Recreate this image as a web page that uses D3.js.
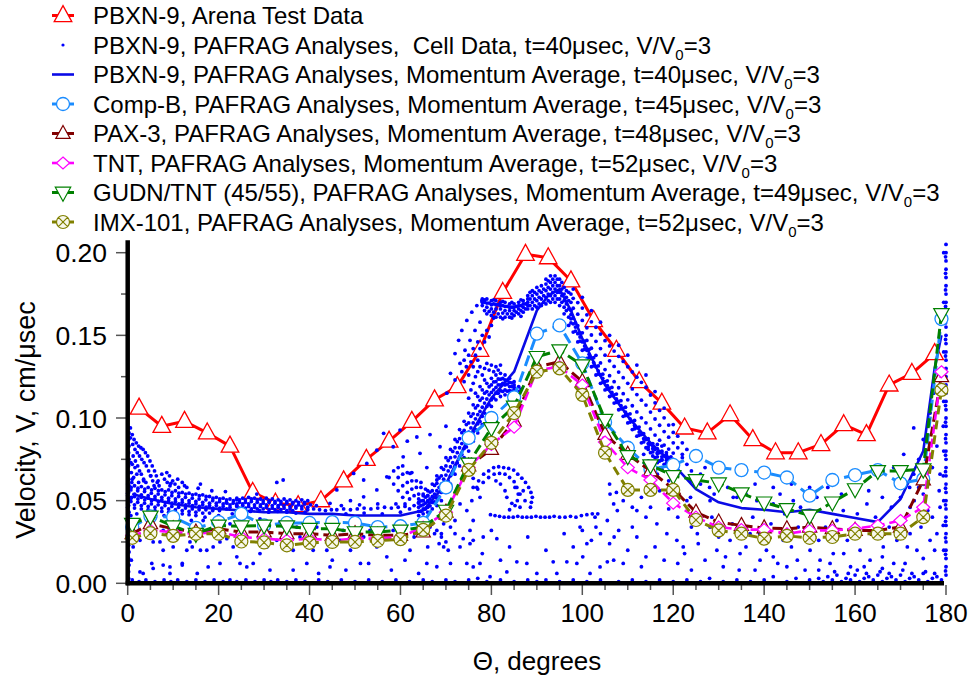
<!DOCTYPE html>
<html><head><meta charset="utf-8">
<script src="https://cdn.jsdelivr.net/npm/d3@7"></script>
<style>body{margin:0;background:#fff}svg{display:block}text{font-family:"Liberation Sans",Arial,Helvetica,sans-serif;white-space:pre}</style>
</head><body><svg id="c" width="972" height="677"></svg>
<script>
// ---------------- DATA ----------------
const yTicks = [0, 0.05, 0.10, 0.15, 0.20];
const yTickLabels = ["0.00","0.05","0.10","0.15","0.20"];
const xTicks = [0,20,40,60,80,100,120,140,160,180];

const arenaTheta = [2.5,7.5,12.5,17.5,22.5,27.5,32.5,37.5,42.5,47.5,52.5,57.5,62.5,67.5,72.5,77.5,82.5,87.5,92.5,97.5,102.5,107.5,112.5,117.5,122.5,127.5,132.5,137.5,142.5,147.5,152.5,157.5,162.5,167.5,172.5,177.5];
const arenaV = [.106,.095,.098,.091,.083,.055,.0485,.047,.050,.062,.075,.086,.098,.111,.119,.141,.176,.199,.197,.183,.159,.141,.122,.109,.094,.091,.102,.087,.079,.079,.084,.096,.090,.120,.127,.139];

const pbxnTheta = [1,5,10,15,20,25,30,35,40,45,50,55,60,65,70,75,80,85,90,92.5,95,97.5,100,103,105,110,115,120,125,130,135,140,145,150,155,160,165,170,175,177.5,179];
const pbxnAvg = [.054,.051,.048,.046,.045,.044,.043,.043,.042,.042,.041,.041,.041,.044,.060,.088,.112,.128,.165,.174,.178,.165,.148,.131,.120,.101,.085,.072,.057,.049,.0455,.0445,.043,.0445,.042,.0395,.037,.051,.080,.130,.150];

const avgTheta = [1,5,10,15,20,25,30,35,40,45,50,55,60,65,70,75,80,85,90,95,100,105,110,115,120,125,130,135,140,145,150,155,160,165,170,175,179];
const compB = [.034,.0405,.040,.0335,.037,.042,.035,.0365,.0365,.037,.0365,.034,.0345,.0365,.058,.088,.100,.1125,.151,.156,.133,.0975,.082,.069,.0716,.077,.070,.0685,.067,.064,.053,.0625,.0655,.0685,.0605,.063,.160];
const pax3 = [.030,.036,.033,.031,.033,.031,.031,.030,.030,.029,.030,.029,.029,.031,.043,.071,.081,.098,.131,.134,.122,.090,.078,.068,.057,.043,.037,.035,.0335,.033,.034,.033,.032,.032,.034,.0625,.125];
const tnt = [.029,.032,.031,.030,.031,.028,.027,.026,.027,.026,.027,.027,.028,.034,.043,.070,.084,.0945,.129,.131,.120,.0855,.070,.0625,.0485,.040,.034,.0325,.0325,.030,.032,.032,.033,.035,.038,.046,.128];
const gudn = [.036,.0405,.0345,.030,.035,.0345,.035,.0345,.033,.033,.031,.031,.032,.034,.044,.0725,.094,.107,.137,.141,.132,.099,.077,.0715,.065,.0625,.0605,.0545,.049,.045,.041,.049,.057,.068,.068,.069,.163];
const imx = [.0275,.0303,.0287,.030,.030,.0253,.0247,.023,.0245,.025,.025,.0257,.0267,.0323,.041,.0686,.085,.103,.128,.130,.114,.079,.0565,.0565,.0565,.0383,.032,.030,.027,.0287,.0275,.028,.030,.030,.030,.040,.117];

// PBXN-9 cell data (theta deg, V cm/usec)
const cellEdge0 = [[.2,.003],[.2,.007],[.3,.011],[.2,.015],[.3,.019],[.2,.023],[.3,.027],[.2,.031],[.3,.035],[.2,.039],[.3,.043],[.2,.047],[.3,.051],[.2,.055],[.3,.059],[.2,.063],[.3,.067],[.2,.071],[.3,.075],[.2,.079],[.3,.083],[.2,.087],[.3,.091],[.2,.094],[.8,.014],[.9,.029],[.7,.041],[.8,.052],[.9,.061],[.7,.073]];
const cellLoop = [[.6,.094],[1,.090],[1.4,.087],[1.9,.085],[2.4,.083],[2.9,.082],[3.4,.081],[3.9,.079],[4.4,.077],[4.9,.074],[5.4,.071],[5.9,.068],[6.3,.065],[6.7,.062],[6.9,.059],
[.6,.088],[1.1,.084],[1.6,.081],[2.1,.079],[2.6,.077],[3.1,.075],[3.6,.073],[4.1,.071],[4.6,.068],[5.1,.065],[5.5,.062],[5.8,.059],
[1.2,.077],[1.7,.074],[2.2,.071],[2.6,.068],[3,.066],[3.5,.063],[4,.061],[2,.066],[1.6,.070],[1,.072],[.8,.067],[1.3,.064],[2.4,.061],
[7.5,.066],[8.1,.063],[8.7,.061],[9.3,.059],[9.9,.062],[10.4,.060],[8.6,.067],[9.2,.065],[11.2,.058],[12,.061],[13,.058]];
const cellBandL = [[0,.060],[1.5,.059],[3,.0585],[4.5,.058],[6,.0575],[7.5,.0565],[9,.0565],[10.5,.056],[12,.055],[13.5,.0545],[15,.054],[16.5,.0535],[18,.0525],[19.5,.052],[21,.0515],[22.5,.051],[24,.0505],
[.7,.0565],[2.2,.056],[3.7,.0555],[5.2,.0545],[6.7,.054],[8.2,.0535],[9.7,.053],[11.2,.0525],[12.7,.052],[14.2,.0515],[15.7,.051],[17.2,.0505],[18.7,.050],[20.2,.0495],[21.7,.049],[23.2,.0485],
[0,.053],[1.5,.0525],[3,.052],[4.5,.0515],[6,.051],[7.5,.0505],[9,.050],[10.5,.0495],[12,.049],[13.5,.0485],[15,.048],[16.5,.0475],[18,.047],[19.5,.047],[21,.0465],[22.5,.046],
[.7,.0495],[2.2,.049],[3.7,.0485],[5.2,.048],[6.7,.0475],[8.2,.047],[9.7,.0465],[11.2,.046],[12.7,.0455],[14.2,.045],[15.7,.0445],[17.2,.0445],[18.7,.044],[20.2,.044],
[0,.046],[1.5,.0455],[3,.045],[4.5,.0445],[6,.044],[7.5,.0435],[9,.043],[10.5,.0425],[12,.042],[13.5,.0415],[15,.041],
[1,.063],[3.5,.062],[6.5,.061],[9.5,.0605],[12.5,.059],[15.5,.0575],[18.5,.056],[21.5,.0555],[5,.065],[11,.063],[16,.060],
[2,.042],[5,.040],[8,.041],[11,.039],[14,.038],[17,.040],[20,.041],[23,.042],
[.75,.058],[2.25,.0575],[3.75,.057],[5.25,.0565],[6.75,.056],[8.25,.0555],[9.75,.055],[11.25,.0545],[12.75,.054],[14.25,.0535],[15.75,.053],[17.25,.0525],[18.75,.0515],[20.25,.051],[21.75,.0505],[23.25,.050],
[0,.0545],[1.5,.054],[3,.0535],[4.5,.053],[6,.0525],[7.5,.052],[9,.0515],[10.5,.051],[12,.0505],[13.5,.050],[15,.0495],[16.5,.049],[18,.0485],[19.5,.0485],[21,.048],[22.5,.0475],[24,.047],
[.75,.0515],[2.25,.051],[3.75,.0505],[5.25,.050],[6.75,.0495],[8.25,.049],[9.75,.0485],[11.25,.048],[12.75,.0475],[14.25,.047],[15.75,.0465],[17.25,.046],[18.75,.0455],[20.25,.0455],[21.75,.045],
[0,.048],[1.5,.0475],[3,.047],[4.5,.0465],[6,.046],[7.5,.0455],[9,.045],[10.5,.0445],[12,.044],[13.5,.0435],[15,.043],[16.5,.0425],[18,.0425]];
const cellCluster = [[24,.0515],[25.3,.0515],[26.6,.052],[27.9,.0515],[29.2,.051],[30.5,.0515],[31.8,.051],[33.1,.0505],[34.4,.051],[35.7,.0505],[37,.050],[38.3,.0505],[39.6,.050],
[24.6,.049],[25.9,.049],[27.2,.0495],[28.5,.049],[29.8,.0485],[31.1,.049],[32.4,.0485],[33.7,.048],[35,.0485],[36.3,.048],[37.6,.0475],[38.9,.048],[40.2,.0475],[41.5,.047],
[24,.0465],[25.3,.047],[26.6,.0465],[27.9,.046],[29.2,.0465],[30.5,.046],[31.8,.0455],[33.1,.046],[34.4,.0455],[35.7,.045],[37,.0455],[38.3,.045],[39.6,.0445],[40.9,.045],[42.2,.0445],[43.5,.044],[44.8,.0445],
[25,.044],[27,.0435],[29,.044],[31,.043],[33,.0435],[35,.043],[37,.0425],[39,.043],
[24.6,.0505],[25.9,.0505],[27.2,.051],[28.5,.0505],[29.8,.050],[31.1,.050],[32.4,.0495],[33.7,.0495],[35,.0495],[36.3,.049],[37.6,.049],[38.9,.049],
[24,.048],[25.3,.048],[26.6,.048],[27.9,.0475],[29.2,.0475],[30.5,.0475],[31.8,.047],[33.1,.047],[34.4,.047],[35.7,.0465],[37,.0465],[38.3,.0465],[39.6,.046],
[24.6,.0455],[25.9,.0455],[27.2,.045],[28.5,.045],[29.8,.045],[31.1,.0445],[32.4,.0445],[33.7,.0445],[35,.044],[36.3,.044],
[46,.0445],[47.5,.045],[49,.0445],[50.5,.045],[52,.0455],[53.5,.045],[55,.0455],[56.5,.046],[58,.0455],[59.5,.046],[61,.0465],[47,.047],[51,.0475],[55,.048],[59,.048],[48,.042],[52,.0425],[56,.042],[60,.043],
[32.8,.061],[34.2,.0625],[28.4,.054],[21.8,.0485]];
const cellArcs = [[59.5,.056],[60.5,.059],[61.5,.061],[62.5,.062],[63.5,.062],[64.5,.061],
[60.5,.052],[61.5,.055],[62.5,.057],[63.5,.058],[64.5,.058],[65.5,.057],
[61,.048],[62,.051],[63,.053],[64,.054],[65,.054],[66,.053],
[62,.045],[63,.047],[64,.049],[65,.050],[66,.050],[67,.049],
[58.5,.060],[59.5,.064],[60.5,.066],[61.5,.067],[62.5,.067],
[57.5,.064],[58.5,.068],[59.5,.070],[60.5,.071]];
const cellAbove = [[46,.0565],[49.7,.0665],[52.6,.0725],[54.8,.0805],[58.4,.0826],[60.6,.0765],[62.1,.0665],[57,.0644],[54.8,.0565],[51.9,.0523],[59.9,.0927],[63.6,.0885],[64.3,.0786],[65.8,.070],[68,.0625],[68.7,.0826],[56.3,.0907],[51.9,.0625],[49,.050],[44.5,.0484],[66.5,.090],[70,.095],[61.5,.086]];
const cellRise = [
[64,.041],[65,.042],[66,.043],[67,.045],[68,.047],[69,.050],[70,.055],[71,.060],[72,.066],[73,.071],[74,.076],[75,.080],[76,.086],[77,.091],[78,.096],[79,.102],[80,.107],[81,.111],[82,.113],[83,.114],[84,.114],[85,.115],
[64,.0435],[65,.045],[66,.046],[67,.049],[68,.0515],[69,.055],[70,.060],[71,.065],[72,.071],[73,.0765],[74,.0815],[75,.086],[76,.0915],[77,.0965],[78,.101],[79,.107],[80,.111],[81,.115],[82,.1165],[83,.117],[84,.1165],[85,.117],
[64,.046],[65,.0475],[66,.0495],[67,.0525],[68,.056],[69,.060],[70,.0655],[71,.0705],[72,.0765],[73,.082],[74,.087],[75,.0915],[76,.097],[77,.102],[78,.1065],[79,.1115],[80,.1155],[81,.1185],[82,.120],[83,.120],[84,.119],[85,.1185],
[64,.0485],[65,.050],[66,.053],[67,.056],[68,.0605],[69,.065],[70,.071],[71,.076],[72,.082],[73,.0875],[74,.0925],[75,.097],[76,.1025],[77,.1075],[78,.112],[79,.116],[80,.120],[81,.122],[82,.1235],[83,.123],[84,.1215],[85,.120],
[64,.051],[65,.053],[66,.056],[67,.060],[68,.065],[69,.070],[70,.076],[71,.081],[72,.087],[73,.093],[74,.098],[75,.103],[76,.108],[77,.113],[78,.117],[79,.121],[80,.124],[81,.126],[82,.127],[83,.126],[84,.124],[85,.122],
[64.5,.0436],[65.5,.0449],[66.5,.0468],[67.5,.0493],[68.5,.0523],[69.5,.0566],[70.5,.0617],[71.5,.0672],[72.5,.0728],[73.5,.0779],[74.5,.0825],[75.5,.0875],[76.5,.0929],[77.5,.0978],[78.5,.103],[79.5,.1081],[80.5,.1122],[81.5,.1149],[82.5,.1161],[83.5,.1162],[84.5,.1162],
[64.5,.047],[65.5,.0485],[66.5,.051],[67.5,.054],[68.5,.058],[69.5,.063],[70.5,.068],[71.5,.073],[72.5,.079],[73.5,.0845],[74.5,.089],[75.5,.094],[76.5,.0995],[77.5,.104],[78.5,.109],[79.5,.114],[80.5,.117],[81.5,.120],[82.5,.121],[83.5,.1205],[84.5,.119],
[64.5,.0499],[65.5,.0521],[66.5,.0552],[67.5,.0592],[68.5,.0637],[69.5,.0689],[70.5,.0743],[71.5,.0798],[72.5,.0857],[73.5,.0911],[74.5,.096],[75.5,.101],[76.5,.1061],[77.5,.1107],[78.5,.115],[79.5,.1189],[80.5,.1218],[81.5,.1236],[82.5,.1239],[83.5,.1228],[84.5,.1213],
[86,.116],[86,.119],[86.5,.1175],
[75,.112],[75.5,.117],[76,.121],[76.5,.125],[77,.128],[77.5,.131],[78,.126],[78.5,.130],[79,.133],[79.5,.129],[80,.132],[80.5,.128],[81,.131],[81.5,.129],[82,.132],[76.5,.115],[77.5,.119],[78.5,.123],
[67,.036],[68,.032],[69,.028],[68.5,.024],[67.5,.030],[66.5,.034]];
const cellUpper = [[70.2,.115],[71,.127],[72,.139],[72.8,.147],[73.5,.153],[74.6,.159],[75.7,.164],[76.8,.168],[77.9,.171],
[72,.123],[73.1,.133],[74.2,.141],[75.3,.147],[76.4,.153],[77.5,.158],
[73.5,.128],[74,.135],[74.5,.131],[75,.138],[75.5,.134],[76,.142],[76.5,.138],[77,.146],[77.5,.142],[78,.150],[78.5,.146],[79,.153],[79.5,.149],[80,.156],[74,.122],[75,.126],[76,.131],[77,.135],
[78,.172],[79,.172],[80,.171],[81,.171],[82,.170],[83,.170],[84,.169],[85,.169],[86,.170],[87,.171],[88,.172],
[78.5,.170],[79.5,.1695],[80.5,.169],[81.5,.1685],[82.5,.168],[83.5,.1675],[84.5,.167],[85.5,.1675],[86.5,.168],[87.5,.169],
[78,.168],[79,.167],[80,.166],[81,.166],[82,.166],[83,.165],[84,.165],[85,.165],[86,.166],[87,.167],[88,.168],
[79,.163],[80,.162],[81,.161],[82,.161],[83,.161],[84,.161],[85,.162],[86,.163],[87,.164],[78.5,.165],[80.5,.164],[82.5,.1635],[84.5,.163],[86.5,.165],
[78,.170],[79,.1695],[80,.1685],[81,.1685],[82,.168],[83,.1675],[84,.167],[85,.167],[86,.168],[87,.169],[79.5,.1645],[80.5,.1605],[81.5,.163],[82.5,.160],[83.5,.163],[84.5,.1605],[85.5,.164],[86.5,.1615],[87.5,.166],[78.5,.1715],[80.5,.1715],[82.5,.1705],[84.5,.170],[86.5,.1715],
[88,.166],[88,.170],[88,.174],[89,.166],[89,.170],[89,.174],[89,.177],[90,.167],[90,.171],[90,.175],[90,.179],[91,.168],[91,.172],[91,.176],[91,.180],
[92,.169],[92,.173],[92,.177],[92,.181],[92,.184],[93,.170],[93,.174],[93,.178],[93,.182],[93,.186],[94,.170],[94,.174],[94,.178],[94,.182],[94,.186],
[95,.168],[95,.172],[95,.176],[95,.180],[95,.184],[96,.163],[96,.167],[96,.171],[96,.175],[96,.179],[97,.156],[97,.161],[97,.166],[97,.171],[97,.176],
[88.5,.168],[89.5,.172],[90.5,.169],[91.5,.174],[92.5,.171],[93.5,.180],[94.5,.184],[95.5,.178],[96.5,.173],[92.5,.179],[93.5,.176],[94.5,.176],
[88.5,.172],[88.5,.176],[89.5,.168],[89.5,.176],[90.5,.173],[90.5,.177],[91.5,.170],[91.5,.178],[92.5,.175],[92.5,.183],[93.5,.172],[93.5,.184],[94.5,.172],[94.5,.180],[95.5,.170],[95.5,.174],[95.5,.182],[96.5,.165],[96.5,.169],[96.5,.177],[97.5,.160],[97.5,.165],[97.5,.170],[97.5,.175]];
const cellFanR = [
[98,.152],[98,.157],[98,.1604],[98,.1664],[98,.1724],[99,.146],[99,.151],[99,.1558],[99,.1628],[99,.1698],
[100,.141],[100,.146],[100,.1515],[100,.159],[100,.1665],[101,.136],[101,.141],[101,.1469],[101,.1546],[101,.1624],
[102,.131],[102,.136],[102,.1422],[102,.1502],[102,.1582],[103,.126],[103,.131],[103,.1379],[103,.1464],[103,.1549],
[104,.121],[104,.126],[104,.1333],[104,.142],[104,.1508],[105,.117],[105,.122],[105,.1293],[105,.138],[105,.1468],
[106,.113],[106,.118],[106,.1256],[106,.1346],[106,.1436],[107,.109],[107,.114],[107,.122],[107,.1312],[107,.1405],
[108,.105],[108,.110],[108,.1183],[108,.1278],[108,.1373],[109,.101],[109,.106],[109,.1147],[109,.1244],[109,.1342],
[110,.097],[110,.102],[110,.111],[110,.121],[110,.131],[111,.093],[111,.098],[111,.1074],[111,.1176],[111,.1279],
[112,.089],[112,.094],[112,.1037],[112,.1142],[112,.1247],[113,.085],[113,.090],[113,.1001],[113,.1108],[113,.1216],
[114,.082],[114,.087],[114,.0971],[114,.1078],[114,.1186],[115,.079],[115,.084],[115,.0934],[115,.1036],[115,.1139],
[116,.076],[116,.081],[116,.0897],[116,.0994],[116,.1092],[117,.074],[117,.079],[117,.0866],[117,.0956],[117,.1046],
[118,.072],[118,.077],[118,.0836],[118,.0918],[118,.1001],[119,.071],[119,.076],[119,.0812],[119,.0884],[119,.0957],
[120,.070],[120,.075],[120,.0788],[120,.085],[120,.0913],[121,.073],[121,.082],[121,.089],[122,.078],[122,.085],[123,.081],
[98.5,.155],[99.5,.149],[100.5,.1435],[101.5,.1385],[102.5,.1335],[103.5,.1285],[104.5,.124],[105.5,.1195],[106.5,.1155],[107.5,.1115],[108.5,.1075],[109.5,.1035],[110.5,.0995],[111.5,.0955],[112.5,.0915],[113.5,.0875],[114.5,.0845],[115.5,.0815],[116.5,.0785],[117.5,.0765],[118.5,.0745],
[97.5,.1575],[98.5,.1525],[99.5,.1465],[100.5,.1415],[101.5,.1365],[102.5,.1315],[103.5,.1265],[104.5,.1215],[105.5,.1175],[106.5,.1135],[107.5,.1095],[108.5,.1055],[109.5,.1015],[110.5,.0975],[111.5,.0935],[112.5,.0895],[113.5,.0855],[114.5,.0825],[115.5,.0795],[116.5,.0765],[117.5,.0745],[118.5,.0725],[119.5,.0715],
[97.5,.1625],[98.5,.1575],[99.5,.1515],[100.5,.1465],[101.5,.1415],[102.5,.1365],[103.5,.1315],[104.5,.1265],[105.5,.1225],[106.5,.1185],[107.5,.1145],[108.5,.1105],[109.5,.1065],[110.5,.1025],[111.5,.0985],[112.5,.0945],[113.5,.0905],[114.5,.0875],[115.5,.0845],[116.5,.0815],[117.5,.0795],[118.5,.0775],[119.5,.0765],
[98,.178],[100,.173],[102,.165],[104,.158],[106,.150],[108,.144],[110,.138],[112,.132],[114,.126],[116,.116],[118,.106],[120,.096]];
const cellSmallFan = [[113.5,.078],[114.5,.081],[115.5,.083],[116.5,.084],[117.5,.083],[114.5,.074],[115.5,.077],[116.5,.079],[117.5,.080],[118.5,.079],
[115.5,.070],[116.5,.073],[117.5,.075],[118.5,.076],[119.5,.075],[116.5,.066],[117.5,.069],[118.5,.071],[119.5,.072],[120.5,.071],[121,.066],[120,.064],[119,.062],
[122,.076],[123,.072],[124,.068],[126,.066],[127,.070],[124,.062],[126,.060],[128,.058],[130,.062],[132,.058],[129,.054]];
const cellWave = [[76,.058],[77.2,.062],[78.3,.066],[79.4,.068],[80.5,.070],[81.6,.0705],[82.7,.070],[83.8,.0695],[84.9,.0685],[85.8,.066],[86.7,.0636],[87.5,.061],[88.2,.058],[88.7,.055],[89,.052],[88.8,.049],[88.6,.046],
[77,.057],[78.2,.061],[79.4,.064],[80.6,.066],[81.8,.0665],[83,.066],[84,.064],[85,.0615],[85.6,.058],[85.9,.054],[85.7,.050],[85.2,.047],[84,.0445],
[83.4,.052],[84.5,.0484],[86.3,.046],[87.4,.050],[86.3,.054],[85.2,.058],[87,.056],[83,.056],[82,.060],[81,.062],
[79.8,.0415],[80.8,.041],[81.8,.0405],[82.8,.040],[83.8,.040],[84.8,.040],[85.8,.0405],[86.8,.040],[87.8,.040],[88.8,.040],[89.8,.0405],[90.8,.040],[91.8,.040],[92.8,.040],[93.8,.0405],[95,.040],[96.2,.040],[97.4,.0405],[98.6,.040],[99.8,.041],[101,.0415],[102.2,.042],[103.4,.042],
[73.1,.022],[73.8,.027],[75.3,.024],[75.3,.032],[76,.038],[74.6,.044],[73.1,.048],[75.7,.050],[77.5,.052],[76.8,.058],[76,.0635],[78.2,.028],[81.2,.027],[69,.030],[70,.025],[71,.034],[70.5,.020],[72,.038],[69.5,.036],
[99.5,.034],[105.5,.038],[107.7,.044],[106.1,.054],[106.9,.048],[102.8,.040]];
const cellSparse = [[2.7,.026],[5.6,.025],[7.8,.020],[10,.022],[13,.020],[14.2,.022],[16,.020],[17.4,.020],[18.8,.022],[20.3,.025],[21.8,.027],[23.2,.022],[24,.016],[24.7,.012],[26.2,.0099],[27.6,.012],[29.1,.018],[30.6,.022],[32.8,.026],[35,.024],[36.4,.020],[37.9,.028],[39.4,.024],[40.8,.020],
[5.3,.012],[2.7,.0069],[9.3,.0099],[12,.011],[15.3,.006],[17.7,.0099],[20.3,.012],[31.3,.008],[36.4,.008],[39.4,.012],[1.2,.022],[4.2,.028],[7.8,.032],[13.7,.025],[7.1,.025],
[8.6,.037],[16.6,.038],[22.5,.036],[29.1,.039],[33.5,.037],[37.2,.034],[40.8,.036],[3.4,.006],[5.6,.009],[7.8,.011],[9.3,.006],[12,.012],
[43.8,.020],[46.7,.026],[49,.020],[51.9,.028],[54.8,.022],[57,.016],[59.2,.026],[62.1,.020],[65.8,.012],[51.2,.012],[44.5,.0099],[69.5,.022],[71,.012],[74.6,.012],[76,.026],[41.6,.034],[47.4,.032],[53.3,.032],[58.4,.032],
[77.5,.012],[76,.0099],[82,.014],[85.6,.013],[87.8,.012],[90,.006],[93.6,.013],[96.6,.013],[98.8,.012],[100.1,.016],[103.9,.0099],[105.5,.013],[106.9,.014],[79.7,.004],[83.4,.0069],[94.4,.006],[101.7,.006],
[106,.060],[107.5,.055],[109,.050],[110,.058],[111,.046],[112,.044],[113,.052],[114,.040],[115,.046],[116.4,.036],[117,.056],[118.6,.030],[119,.045],[120.8,.026],[121,.040],[122.2,.022],[123,.050],[124,.034],[104,.030],[106,.024],[108,.032],[110,.020],[112,.028],[114,.016],[102,.026],[100,.032],
[125.3,.030],[128.1,.034],[129.6,.020],[132.5,.026],[134.7,.018],[136.9,.030],[139.1,.014],[142,.016],[144.2,.026],[147.3,.014],[150.1,.020],[152.3,.014],[155.2,.018],[158.3,.026],[161.1,.020],[163.3,.014],[166.2,.022],[169.2,.026],[172.1,.030],[173.6,.020],[176.5,.026],
[123.8,.052],[128.1,.050],[133.2,.052],[138.4,.050],[143.5,.054],[146.4,.050],[151.6,.052],[157.4,.044],[162.6,.048],[165.5,.066],[168.5,.070],[170.7,.078],[172.9,.094],[175,.087],[176.5,.103],[177.3,.115],[172.9,.066],[175,.054],[172.1,.046],[178,.083],[178.7,.066],[178.7,.046],[178,.030],
[134,.052],[136,.054],[140,.051],[142,.048],[145,.047],[148,.046],[131,.010],[138,.008],[145,.010],[152,.008],[159,.010],[166,.009],[171,.012],[175,.015],[177,.040],[176,.060],[174,.075],
[121,.012],[122.5,.018],[124,.008],[125.5,.024],[127,.014],[128.5,.040],[130,.028],[131.5,.016],[133,.036],[134.5,.008],[136,.022],[137.5,.040],[139,.030],[140.5,.020],[141.5,.036],[143,.012],[144.5,.042],[146,.022],[147.5,.034],[149,.008],[150.5,.040],[152,.026],[153.5,.034],[154.5,.012],[156,.038],[157.5,.018],[159,.032],[160.5,.042],[162,.010],[163.5,.030],[164.5,.040],[166,.016],[167.5,.034],[168.5,.012],[170,.040],[171.5,.022],[173,.050],[174.5,.034],[176,.044],[177.5,.020],[178.5,.056],[177,.070],[175.5,.060],[174,.058],[172,.058],[170,.052],[168,.046],[166,.052],[163,.056],[160,.058],[157,.054],[154,.058],[150,.058],[146,.060],[142,.058],[138,.060],
[42,.006],[45,.014],[48,.008],[50,.030],[53,.012],[55,.035],[58,.008],[61,.014],[63,.028],[64,.006],[66,.022],[68,.010],[72,.030],[78,.018],[80,.032],[84,.022],[88,.028],[92,.020],[96,.030],[98,.022],[101,.024],[103,.034],[107,.028],[109,.012],[111,.034],[113,.010],[116,.022],[118,.014]];
const cellBottom = [[1,.002],[2.5,.001],[4,.002],[6,.001],[8,.002],[9.5,.001],[11,.002],[13,.001],[15,.002],[17,.001],[19,.002],[21,.001],[22.5,.002],[24,.001],[26,.002],[28,.001],[30,.002],[31.5,.001],[33,.002],[35,.001],[37,.002],[39,.001],[42,.002],[44,.001],[47,.002],[50,.001],[53,.002],[56,.001],[59,.002],[62,.001],[65,.002],[67,.001],[70,.002],[72,.001],[75,.002],[77,.003],[79,.001],[82,.002],[85,.001],[88,.002],[90,.001],[92,.002],[95,.001],[98,.002],[101,.001],[104,.002],[108,.001],[111,.002],[114,.001],[117,.002],[120,.001],[123,.002],[126,.001],[128,.003],[131,.001],[134,.002],[137,.001],[140,.002],[142,.004],[145,.001],[147,.003],[150,.002],
[152,.003],[153,.001],[154,.004],[155,.002],[156,.005],[157,.001],[158,.003],[159,.002],[160,.005],[161,.001],[162,.003],[163,.004],[164,.002],[165,.005],[166,.001],[167,.003],[168,.004],[169,.002],[170,.005],[171,.001],[172,.003],[173,.004],[174,.002],[175,.006],[176,.001],[177,.003],[178,.004],[179,.002],[155.5,.007],[160.5,.008],[165.5,.007],[170.5,.008],[175.5,.007],[158.5,.006],[162.5,.006],[167.5,.006],[172.5,.006],[177.5,.006]];
const cellEdge180 = [[180,.005],[180,.010],[180,.015],[180,.020],[180,.025],[180,.030],[180,.035],[180,.040],[180,.045],[180,.050],[180,.055],[180,.060],[180,.065],[180,.070],[180,.075],[180,.080],[180,.085],[180,.090],[180,.095],[180,.100],[180,.105],[180,.110],[180,.115],[180,.120],[180,.125],[180,.130],[180,.135],[180,.140],[180,.145],[180,.150],[180,.155],[180,.160],[180,.165],[180,.170],[180,.175],[180,.180],[180,.185],[180,.190],[180,.195],[180,.200],[180,.205],
[179.9,.0075],[179.9,.0175],[179.9,.0275],[179.9,.0375],[179.9,.0475],[179.9,.0575],[179.9,.0675],[179.9,.0775],[179.9,.0875],[179.9,.0975],[179.9,.1075],[179.9,.1175],[179.9,.1275],[179.9,.1375],[179.9,.1475],[179.9,.1575],[179.9,.1675],[179.9,.1775],[179.9,.1875],[179.9,.1975],
[179.5,.02],[179.5,.05],[179.5,.08],[179.5,.11],[179.5,.14],[179.5,.17],[179.5,.20],[179.4,.035],[179.4,.065],[179.4,.095]];

const legendLabels = [
 "PBXN-9, Arena Test Data",
 "PBXN-9, PAFRAG Analyses,  Cell Data, t=40μsec, V/V_0=3",
 "PBXN-9, PAFRAG Analyses, Momentum Average, t=40μsec, V/V_0=3",
 "Comp-B, PAFRAG Analyses, Momentum Average, t=45μsec, V/V_0=3",
 "PAX-3, PAFRAG Analyses, Momentum Average, t=48μsec, V/V_0=3",
 "TNT, PAFRAG Analyses, Momentum Average, t=52μsec, V/V_0=3",
 "GUDN/TNT (45/55), PAFRAG Analyses, Momentum Average, t=49μsec, V/V_0=3",
 "IMX-101, PAFRAG Analyses, Momentum Average, t=52μsec, V/V_0=3"
];

// ---------------- DRAW ----------------
const svg = d3.select('#c');
const x = d3.scaleLinear().domain([0,180]).range([127.7,946]);
const y = d3.scaleLinear().domain([0,0.2]).range([583.3,252.7]);
const yTop = 0.2075;

const markers = {
  triUp: s => `M0,${-s*0.62}L${s*0.55},${s*0.38}L${-s*0.55},${s*0.38}Z`,
  triDown: s => `M0,${s*0.62}L${s*0.55},${-s*0.38}L${-s*0.55},${-s*0.38}Z`,
  diamond: s => `M0,${-s*0.5}L${s*0.55},0L0,${s*0.5}L${-s*0.55},0Z`,
  circle: s => `M${s/2},0A${s/2},${s/2} 0 1 1 ${-s/2},0A${s/2},${s/2} 0 1 1 ${s/2},0Z`,
  circX: s => { const r=s/2, d=r*0.707; return `M${r},0A${r},${r} 0 1 1 ${-r},0A${r},${r} 0 1 1 ${r},0ZM${-d},${-d}L${d},${d}M${d},${-d}L${-d},${d}`; }
};

const series = [
 {name:'arena', th:arenaTheta, v:arenaV, color:'#ff0000', w:3, dash:null, mk:'triUp', ms:16, fill:'#fff', mw:1.3},
 {name:'pbxn', th:pbxnTheta, v:pbxnAvg, color:'#0a0ae6', w:2.6, dash:null, mk:null},
 {name:'compB', th:avgTheta, v:compB, color:'#1a8cff', w:3, dash:'11,6', mk:'circle', ms:13, fill:'#fff', mw:1.3},
 {name:'pax3', th:avgTheta, v:pax3, color:'#800000', w:3, dash:'10,5', mk:'triUp', ms:13, fill:'#fff', mw:1.2},
 {name:'tnt', th:avgTheta, v:tnt, color:'#ff00ff', w:2.6, dash:'9,5', mk:'diamond', ms:12, fill:'#fff', mw:1.2},
 {name:'gudn', th:avgTheta, v:gudn, color:'#008000', w:3, dash:'10,5', mk:'triDown', ms:14, fill:'#fff', mw:1.2},
 {name:'imx', th:avgTheta, v:imx, color:'#808000', w:3, dash:'9,6', mk:'circX', ms:13, fill:'#f7f7ec', mw:1.2}
];

const line = d3.line().x(d=>x(d[0])).y(d=>y(d[1]));
const plot = svg.append('g');

function drawSeries(s){
  const pts = s.th.map((t,i)=>[t,s.v[i]]);
  plot.append('path').attr('d', line(pts)).attr('fill','none').attr('stroke',s.color)
    .attr('stroke-width',s.w).attr('stroke-dasharray',s.dash).attr('stroke-linejoin','round');
  if(s.mk){
    plot.append('g').selectAll('path').data(pts).join('path')
      .attr('transform',d=>`translate(${x(d[0])},${y(d[1])})`)
      .attr('d', markers[s.mk](s.ms)).attr('fill',s.fill).attr('stroke',s.color).attr('stroke-width',s.mw);
  }
}

// tick marks
const ax = svg.append('g');
ax.selectAll('line.yt').data(d3.range(0,0.2001,0.025)).join('line')
  .attr('x1',d=> (Math.round(d*1000)%50===0)?116:121).attr('x2',126)
  .attr('y1',d=>y(d)).attr('y2',d=>y(d)).attr('stroke','#555').attr('stroke-width',1.5);
ax.selectAll('line.xt').data(d3.range(0,180.1,5)).join('line')
  .attr('y1',585).attr('y2',d=> (d%20===0)?595:590)
  .attr('x1',d=>x(d)).attr('x2',d=>x(d)).attr('stroke','#555').attr('stroke-width',1.5);

drawSeries(series[0]);
drawSeries(series[1]);

const cellData = [].concat(cellEdge0, cellLoop, cellBandL, cellCluster, cellArcs, cellAbove, cellRise, cellUpper, cellFanR, cellSmallFan, cellWave, cellSparse, cellBottom, cellEdge180);
plot.append('g').selectAll('circle').data(cellData).join('circle')
  .attr('cx',d=>x(d[0])).attr('cy',d=>y(d[1])).attr('r',1.9).attr('fill','#0000ff');

series.slice(2).forEach(drawSeries);

// spines
svg.append('line').attr('x1',x(0)).attr('x2',x(0)).attr('y1',y(yTop)).attr('y2',y(0)+2).attr('stroke','#000').attr('stroke-width',4.5);
svg.append('line').attr('x1',x(0)-2).attr('x2',x(180)-2).attr('y1',y(0)).attr('y2',y(0)).attr('stroke','#000').attr('stroke-width',4.5);

// tick labels
svg.append('g').selectAll('text').data(yTicks).join('text')
  .attr('x',107).attr('y',d=>y(d)+9.5).attr('text-anchor','end').attr('font-size',26.5)
  .text((d,i)=>yTickLabels[i]);
svg.append('g').selectAll('text').data(xTicks).join('text')
  .attr('x',d=>x(d)).attr('y',622).attr('text-anchor','middle').attr('font-size',26)
  .text(d=>d);

// axis titles
svg.append('text').attr('transform','translate(35,420) rotate(-90)').attr('text-anchor','middle')
  .attr('font-size',27).text('Velocity, V, cm/μsec');
svg.append('text').attr('x',537).attr('y',670).attr('text-anchor','middle').attr('font-size',26).text('Θ, degrees');

// legend
const lg = svg.append('g');
const legSeries = [series[0], {cell:true}, series[1], series[2], series[3], series[4], series[5], series[6]];
legendLabels.forEach((lab,i)=>{
  const base = 24 + i*29.5, cy = base - 8.5;
  const s = legSeries[i];
  if(s.cell){
    lg.append('circle').attr('cx',63).attr('cy',cy).attr('r',1.6).attr('fill','#0000ff');
  } else {
    lg.append('line').attr('x1',52).attr('x2',74).attr('y1',cy).attr('y2',cy).attr('stroke',s.color).attr('stroke-width',s.w);
    if(s.mk) lg.append('path').attr('transform',`translate(63,${cy})`).attr('d',markers[s.mk](s.ms)).attr('fill',s.fill).attr('stroke',s.color).attr('stroke-width',s.mw);
  }
  const t = lg.append('text').attr('x',93).attr('y',base).attr('font-size',24);
  const parts = lab.split('_0');
  t.append('tspan').text(parts[0]);
  if(parts.length>1){
    t.append('tspan').attr('dy',6).attr('font-size',15).text('0');
    t.append('tspan').attr('dy',-6).text(parts[1]);
  }
});
</script>
</body></html>
